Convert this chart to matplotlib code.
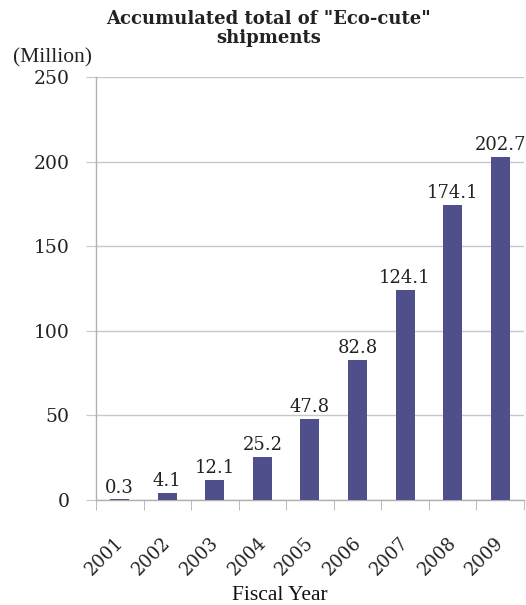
import matplotlib
matplotlib.use("Agg")
import matplotlib.pyplot as plt
import matplotlib.transforms as mtransforms
import numpy as np

years = ["2001", "2002", "2003", "2004", "2005", "2006", "2007", "2008", "2009"]
values = [0.3, 4.1, 12.1, 25.2, 47.8, 82.8, 124.1, 174.1, 202.7]
yticks = [0, 50, 100, 150, 200, 250]

plt.rcParams['font.family'] = ['DejaVu Serif']

fig = plt.figure(figsize=(5.26, 6.05), dpi=100)
ax = fig.add_axes([0.1825, 0.1736, 0.8135, 0.6991])

x = np.arange(len(years))
bar_color = "#4F4F8C"
ax.bar(x, values, width=0.4, color=bar_color, zorder=3)
for xi, v in zip(x, values):
    ax.annotate(f"{v:.1f}", (xi, v), xytext=(0, 5), textcoords="offset points",
                ha="center", va="baseline", fontsize=13, color="#222222",
                annotation_clip=False, zorder=4)

ax.set_xlim(-0.5, len(years) - 0.5)
ax.set_ylim(0, 250)
ax.set_yticks(yticks)
ax.set_yticklabels([str(t) for t in yticks], fontsize=13.5, color="#222222")
ax.tick_params(axis="y", length=7, color="#c8c8c8", pad=12)
ax.yaxis.grid(True, color="#c8c8c8", linewidth=1, zorder=0)

ax.set_xticks(x)
ax.set_xticklabels(years, rotation=45, ha="right", va="top",
                   rotation_mode="anchor", fontsize=13, color="#222222")
ax.tick_params(axis="x", length=0, pad=24)
shift = mtransforms.ScaledTranslation(-4 / 72, 0, fig.dpi_scale_trans)
for lbl in ax.get_xticklabels():
    lbl.set_transform(lbl.get_transform() + shift)
ax.set_xticks(np.arange(-0.5, len(years)), minor=True)
ax.tick_params(axis="x", which="minor", length=7, color="#b0b0b0", direction="out")

for s in ["top", "right"]:
    ax.spines[s].set_visible(False)
for s in ["left", "bottom"]:
    ax.spines[s].set_color("#b0b0b0")
    ax.spines[s].set_linewidth(1)

fig.text(0.532, 0.0165, "Fiscal Year", ha="center", va="center", fontsize=15.5,
         family="Liberation Serif", color="#111111")

fig.text(0.51, 0.953, 'Accumulated total of "Eco-cute"\nshipments', ha="center",
         va="center", fontsize=13, fontweight="bold", linespacing=1.05,
         color="#222222")
fig.text(0.024, 0.905, "(Million)", ha="left", va="center", fontsize=15.5,
         family="Liberation Serif", color="#222222")

fig.savefig("out.png", dpi=100)
